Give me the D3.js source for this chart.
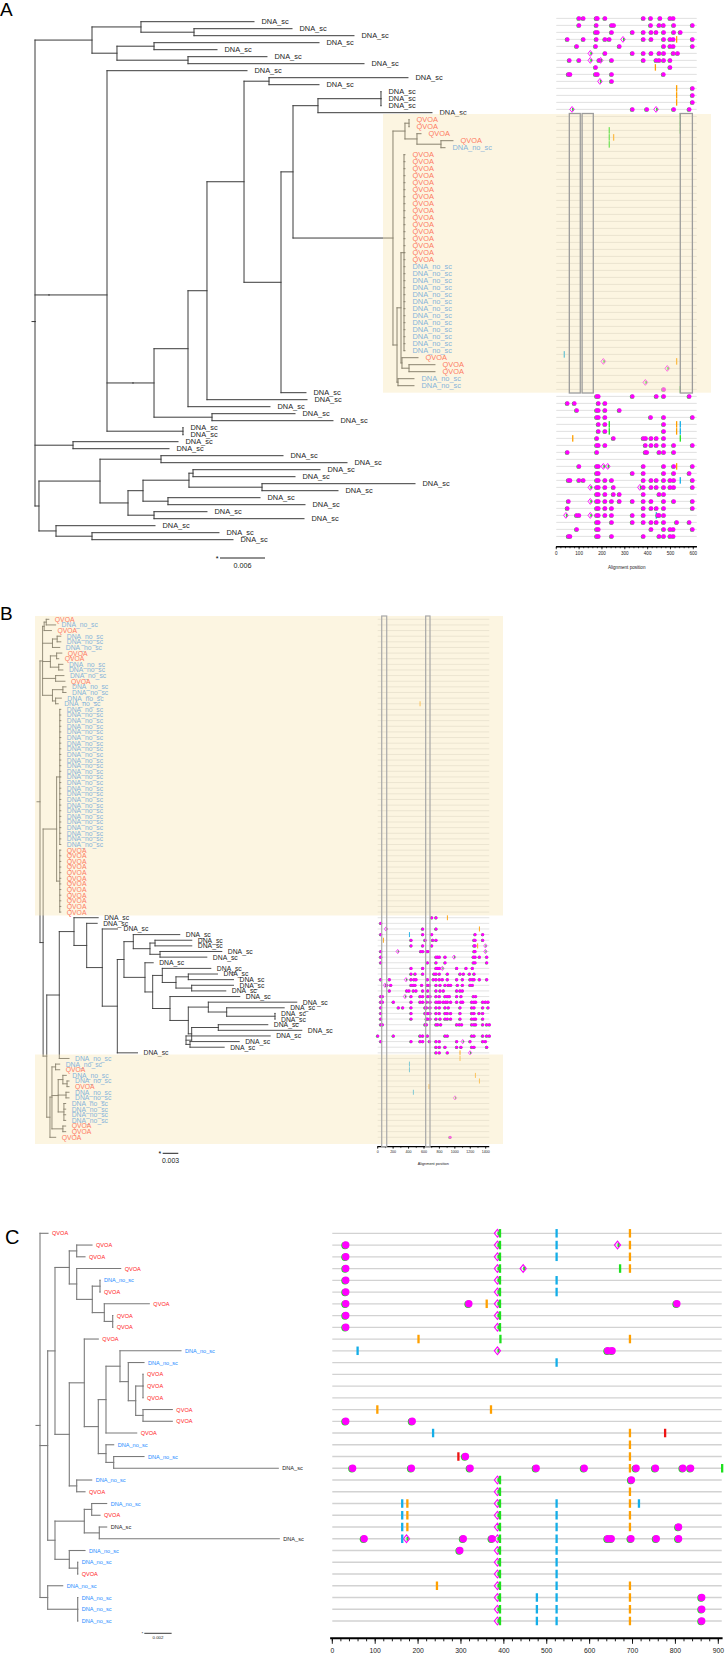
<!DOCTYPE html>
<html><head><meta charset="utf-8">
<script src="https://cdn.jsdelivr.net/npm/d3@7"></script>
<style>body{margin:0;background:#fff}svg{display:block}text{font-family:"Liberation Sans",Arial,sans-serif}</style>
</head><body><svg id="fig" width="725" height="1654"></svg>
<script>
const rep=(s,n)=>Array(n).fill(s).join(',');
const labelText={S:'DNA_sc',Q:'QVOA',N:'DNA_no_sc'};

// ---------------- Panel A data (depths from root, x1e-3 subst/site) ----------------
const hlCladeA=`(((Q:49.87,Q:49.87):49.87,(Q:51.47,(Q:55.73,N:54.67):54.13):50.93):49.33,(((${rep('Q:49.33',16)},${rep('N:49.33',13)}):49.2,(Q:51.07,(Q:53.33,Q:53.33):49.87):48.93):48.8,(N:50.53,N:50.53):48.4):48.27):47.73`;
const treeA=`((((S:29.2,(S:34.27,S:42.53):21.2):14.13,((S:37.87,S:24.27):15.87,(S:30.93,S:43.87):20.4):10.93):7.6,((S:28.27,((((((S:49.73,S:37.87):31.2,((((S:46.13,S:46.13,S:46.13):46.13,S:52.93):37.73,${hlCladeA}):34.4,S:36.13):32.8):27.87,S:36.27):22.93,S:31.33):20.4,(S:34.67,S:39.73):23.6):15.87):13.07,(S:19.73,S:19.73):19.73):9.6):1.87,(S:19.07,S:17.87):5.07,(((S:33.07,S:41.6):16.8,((((S:38,S:34.67):21.07,(S:50.67,S:40.4):30.27):20.53,(S:30,S:36):17.73):14.4,(S:22.93,S:35.87):15.87):12.4):8.67,(S:16,(S:24.53,S:26.4):7.6):2.8):0.53):0`;
const mutsA=[
"99 118 175 180 213 381 413 454 498 512","99 175 242 251 413 450 469 514 596","172 180 242 333 381 415 437 470 514 543",
"48 118 175 213 232 292o 381 415 470 498 512 527y 596","89 172 276 470 498 512 596","149o 213 333 381 415 450 470 512 531",
"57 99 149o 187 194o 242 381 437 450 470 498","172 434y 498","53 60 172 180 242 469","191o 242","527y 596","527y 596","527y 596",
"69o 333 396 437o 514 582","543g","543g","232g 543g","232g 251y","232g",
"","","","","","","","","","","","","","","","","","","","","","","","","","","","","",
"35b","206o 527y","486o","","390o","470 543g",
"177 184 333 438 470 582","48 79 184 213","89 177 184 213 276","177 184 213 413 470 596",
"184 213 232g 470 527y 543b","184 213 232g 470 527y 543b","72y 177 250 381 391 415 438 470 543g",
"177 184 213 390 415 438 470 514 596","48 177 390 396 450 470 514","",
"99 177 184 206o 225o 381 470 514 527y 596","177 184 333 381 470 514 582",
"53 60 99 118 177 184 213 242 381 415 438 470 498 514 543b 596",
"149o 177 184 213 250 366o 381 415 438 470 498 514 596","177 184 213 250 276 381 450 470",
"53 149o 177 184 213 242 276 333 381 415 470 514 596","48 177 184 213 242 381 415 438 470 596",
"42o 89 99 149o 177 184 213 242 333 381 438b 445 450 470","177 184 242 333 381 415 438 470 527 582",
"89 177 184 415 470 498 512 596","53 60 177 184 242 381 450 470 498 512"];
const ticksA=[0,100,200,300,400,500,600];
const boxesA=[[57,105],[113,162],[543,596]];
const scaleA=0.006;

// ---------------- Panel B data ----------------
const topB="(((Q:1.7,N:3.0):1.2,Q:2.2):0.8,((N:4.0,N:4.0):3.3,N:3.8):2.4,((Q:4.2,Q:3.6):3.2,(N:4.4,N:4.4):3.6):2.0,(N:4.6,Q:4.8):3.0,((N:5.0,N:5.0):4.4,(N:4.1,N:3.5):3.0):2.4):0.5";
const blockB=`((${rep('N:4.0',25)}):3.8,(${rep('Q:4.0',12)}):3.8):3.2`;
const scB="(S:11.19,(S:11.0,(S:14.9,(((S:26.88,((S:29.19,S:29.19):22.12,(S:34.96,S:32.08):23.08):21.15):17.94,(S:21.77,((S:32.85,((S:34.13,S:37.21):28.52,(S:37.21,S:35.73):29.17):26.15):23.52,(S:38.42,((S:49.38,(S:46.96,(S:45.19,S:45.19):45.19):35.9):32.37,((S:43.81,S:50.35):34.29,(S:44.27,(S:38.31,S:35.42):28.85):28.08):29.17):28.52):25):21.67):20.19):16.15,S:18.75):14.87):11.98):8.98):6.54";
const botB="(((N:3.79,Q:3.79):3.0,((N:5.06,(N:5.58,Q:5.58):5.2):4.4,(N:5.58,N:5.58):5.0,(N:4.94,N:4.94,N:4.94,N:4.94):4.6):3.5,(Q:4.94,Q:4.94):4.4):2.3,Q:3.02):1.92";
const treeB=`(${topB},(${blockB},((${scB},N:5.58):3.71,${botB}):1.3):0.6):0`;
const mutsB=[
"","","","","","","","","","","","","","","","549y","","","","","","","","","","","",
"","","","","","","","","","","","","","","","","","","","","","","","","","",
"700 756 903y","39","108o 583 756 1318y","39 411b 583 700 1262 1361","73y 432 614 713 756 1249 1262 1361",
"432 583 700 1249 1262 1296y 1396o","39 259o 557 583 631 652 1249 1262 1396o","39 756 778 799 873 990o 1240 1262 1318 1413",
"39 644 756 873 1240 1262 1413","432 583 756 778 799 838o 1024 1145 1227","432 484 583 730 756 799 903 1067 1111 1188 1249",
"39 151 367o 432 471 497 644 721 756 799 838 903 1024 1098 1197 1227 1249 1318 1413",
"95o 117 169 432 462 484 570 644 670 756 808 873 916 946 1033 1098 1197 1227",
"151 376 406 462 497 583 648 756 808 851 1024 1067 1098",
"39 60 354o 432 549 583 648 678 756 799 873 903 929 1024 1080 1240 1270",
"39 60 203 432 549 583 631 678 756 786 808 851 881 903 946 1024 1080 1102 1219 1249 1270 1361 1396 1430",
"39 268 324 432 614 631 678 756 799 873 916 1067 1219 1249 1361 1430",
"39 432 614 648 678 756 799 873 903 946 1067 1219 1249 1314 1361",
"39 432 631 648 678 756 808 873 903 946 1067 1219 1249 1270 1361",
"39 60 614 631 756 778 817 1024 1059 1089 1219 1249 1270 1361 1413 1448","",
"0 203 549 583 644 873 903 1219 1249 1361 1413 1448","39 432 549 583 670 756 799 1024 1102o 1197 1361 1396",
"756 799 873 1024 1080 1219 1249 1413","756 799 903 1067y 1197o",
"1067y","411b","411b","1266y","1318y","665y","462b","1002o","","","","","","","938"];
const ticksB=[0,200,400,600,800,1000,1200,1400];
const boxesB=[[52,117],[622,678]];
const scaleB=0.003;

// ---------------- Panel C data ----------------
const treeC="(Q:0.585,((((Q:3.804,Q:3.292):2.685,(Q:5.903,((N:4.389,Q:4.389):4.389,(Q:7.996,(Q:5.318,Q:5.318):5.318):4.704):3.826):2.685):2.143,((Q:4.265,(((N:10.315,(N:7.608,((Q:7.535,Q:7.535,Q:7.535):7.535,(Q:9.678,Q:9.678):7.535):7.001):6.459):5.852,Q:7.074):4.828,(N:5.391,(N:7.608,S:17.432):5.391):4.828):4.265):3.241,(N:3.782,Q:3.292):2.685):2.143):1.097,(((N:4.879,Q:4.389):3.782,(S:4.879,S:17.505):4.338):3.241,(N:3.292,(N:2.758,Q:2.758):2.758):2.143):1.097):0.563,(N:1.661,(N:2.758,N:2.758,N:2.758):2.758):0.563):0";
const mutsC=[
"385o 391g 523b 694y","31 385o 391g 523b 665o 694y","31 385o 391g 523b 694y","31 385o 391g 445o 671g 694y",
"31 385o 391g 523b","31 385o 391g 523b","31 318 360y 385o 391g 803","31 385o 391g","31 385o 391g",
"201y 392g 694y","59b 385o 642 652","523b","","","","105y 370y","31 186","235b 694y 776r","694y","294r 310 694y",
"47 184 321 475 587 694y 708 753 817 835 909g","385o 391g 697","385o 391g 694y",
"163b 175y 385o 391g 523b 694y 715b","163b 175y 385o 391g 523b 694y","163b 175y 385o 391g 523b 694y 807",
"74 163b 173o 305 372 385o 391g 523b 642 650 696 755 807","297 385o 391g 523b","385o 391g 523b","385o 391g 523b",
"244y 385o 391g 523b 694y","385o 391g 477b 523b 694y 861","385o 391g 477b 523b 694y 861","385o 391g 477b 523b 694y 861"];
const ticksC=[0,100,200,300,400,500,600,700,800,900];
const scaleC=0.002;

// ---------------- helpers ----------------
function parseTree(str){
  const s=str.replace(/\s+/g,'');let i=0;
  function node(){
    const n={};
    if(s[i]==='('){i++;n.children=[];for(;;){n.children.push(node());if(s[i]===','){i++;continue;}i++;break;}}
    else{const j=i;while(i<s.length&&/[A-Za-z_]/.test(s[i]))i++;n.label=s.slice(j,i);}
    if(s[i]===':'){i++;const j=i;while(i<s.length&&/[0-9.\-]/.test(s[i]))i++;n.depth=+s.slice(j,i);}else n.depth=0;
    return n;
  }
  return node();
}
const svg=d3.select('#fig');
function drawTree(g,str,xs,ys,o){
  const root=d3.hierarchy(parseTree(str));
  const leaves=root.leaves();
  leaves.forEach((l,i)=>l.yy=ys(i));
  root.eachAfter(n=>{n.xx=xs(n.data.depth);if(n.children)n.yy=d3.mean(n.children,c=>c.yy);});
  const segs=[];
  root.each(n=>{if(n.children){const cy=n.children.map(c=>c.yy);segs.push([n.xx,d3.min(cy),n.xx,d3.max(cy)]);n.children.forEach(c=>segs.push([n.xx,c.yy,c.xx,c.yy]));}});
  segs.push([root.xx-o.stub,root.yy,root.xx,root.yy]);
  g.append('g').selectAll('line').data(segs).join('line')
    .attr('x1',d=>d[0]).attr('y1',d=>d[1]).attr('x2',d=>d[2]).attr('y2',d=>d[3])
    .attr('stroke',o.line).attr('stroke-width',o.lw).attr('stroke-linecap','square');
  g.append('g').selectAll('text').data(leaves).join('text')
    .attr('x',d=>d.xx+o.gap).attr('y',d=>d.yy).attr('dy','0.36em')
    .attr('font-size',o.fs).attr('fill',d=>o.colors[d.data.label]).text(d=>labelText[d.data.label]);
}
const tickCol={g:'#1ee01e',b:'#14aee8',y:'#ffa000',r:'#ee1414'};
function drawHL(g,rows,xs,ys,maxPos,st){
  g.append('g').selectAll('line').data(rows).join('line')
    .attr('x1',xs(0)).attr('x2',xs(maxPos)).attr('y1',(d,i)=>ys(i)).attr('y2',(d,i)=>ys(i))
    .attr('stroke',st.rowColor).attr('stroke-width',st.rowW);
  const marks=[];
  rows.forEach((r,i)=>r.split(/\s+/).filter(Boolean).forEach(t=>{const m=t.match(/^(\d+)([a-z]?)$/);marks.push({row:i,pos:+m[1],t:m[2]||'d'});}));
  const dia=marks.filter(m=>m.t==='o'), tk=marks.filter(m=>'gbyr'.includes(m.t)), dots=marks.filter(m=>m.t==='d');
  const gd=g.append('g');
  dia.forEach(m=>{
    const x=xs(m.pos),y=ys(m.row),w=st.dw,h=st.dh;
    gd.append('rect').attr('x',x).attr('y',y-h*0.5).attr('width',w*0.7).attr('height',h).attr('fill',tickCol.g);
    gd.append('path').attr('d',`M${x},${y-h}L${x+w},${y}L${x},${y+h}L${x-w},${y}Z`).attr('fill','none').attr('stroke','#ff00ff').attr('stroke-width',st.dsw);
  });
  g.append('g').selectAll('rect').data(tk).join('rect')
    .attr('x',d=>xs(d.pos)-st.tw/2).attr('y',d=>ys(d.row)-st.th/2).attr('width',st.tw).attr('height',st.th)
    .attr('fill',d=>tickCol[d.t]);
  const gdot=g.append('g');
  gdot.selectAll('.gr').data(dots).join('circle').attr('cx',d=>xs(d.pos)-st.r*0.16).attr('cy',d=>ys(d.row)+st.r*0.12).attr('r',st.r).attr('fill','#22d422');
  gdot.selectAll('.mg').data(dots).join('circle').attr('cx',d=>xs(d.pos)+st.r*0.04).attr('cy',d=>ys(d.row)).attr('r',st.r).attr('fill','#ff00ff');
}
function drawAxis(g,xs,y,ticks,minorStep,maxPos,st){
  const ax=g.append('g').attr('transform',`translate(0,${y})`);
  ax.append('line').attr('x1',xs(-st.ext)).attr('x2',xs(maxPos)).attr('stroke','#000').attr('stroke-width',st.aw);
  ax.selectAll('.mi').data(d3.range(0,maxPos,minorStep)).join('line').attr('x1',d=>xs(d)).attr('x2',d=>xs(d)).attr('y1',0).attr('y2',st.minor).attr('stroke','#000').attr('stroke-width',st.tw);
  ax.selectAll('.ma').data(ticks).join('line').attr('x1',d=>xs(d)).attr('x2',d=>xs(d)).attr('y1',0).attr('y2',st.major).attr('stroke','#000').attr('stroke-width',st.tw);
  ax.selectAll('text').data(ticks).join('text').attr('x',d=>xs(d)).attr('y',st.ly).attr('text-anchor','middle').attr('font-size',st.fs).attr('fill','#222').text(d=>d);
}
function scaleBar(g,xs,x0,y,val,st){
  const len=xs(val*1000)-xs(0);
  g.append('text').attr('x',x0-st.sg).attr('y',y+st.fs*0.45).attr('font-size',st.fs).attr('text-anchor','end').text('*');
  g.append('line').attr('x1',x0).attr('x2',x0+len).attr('y1',y).attr('y2',y).attr('stroke','#222').attr('stroke-width',st.lw);
  g.append('text').attr('x',x0+len/2).attr('y',y+st.ty).attr('text-anchor','middle').attr('font-size',st.fs).attr('fill','#222').text(val);
}

// ---------------- Panel A ----------------
{
  const g=svg.append('g');
  g.append('text').attr('x',0).attr('y',16).attr('font-size',19).text('A');
  const xs=d3.scaleLinear().domain([0,6]).range([35,80]);
  const ys=d3.scaleLinear().domain([0,74]).range([21.7,539.7]);
  drawTree(g,treeA,xs,ys,{line:'#3a3a3a',lw:1,stub:3,gap:7.5,fs:7.4,colors:{S:'#1c1c1c',Q:'#ff2618',N:'#2c8df2'}});
  const hx=d3.scaleLinear().domain([0,600]).range([556.3,693.3]);
  const hy=d3.scaleLinear().domain([0,74]).range([18.4,536.4]);
  drawHL(g,mutsA,hx,hy,615,{rowColor:'#dcdcdc',rowW:0.9,r:2.2,tw:1.3,th:6.5,dw:2.3,dh:2.9,dsw:0.9});
  drawAxis(g,hx,546.7,ticksA,20,616,{ext:1,aw:1.4,tw:0.7,minor:1.6,major:2.6,ly:8.5,fs:4.6});
  g.append('text').attr('x',626.7).attr('y',568.5).attr('text-anchor','middle').attr('font-size',4.6).attr('fill','#222').text('Alignment position');
  scaleBar(g,xs,220,558,scaleA,{sg:1.5,lw:1,fs:7.2,ty:10});
  g.append('rect').attr('x',383).attr('y',114).attr('width',328).attr('height',278.7).attr('fill','#f9e6b8').attr('opacity',0.42);
  boxesA.forEach(b=>g.append('rect').attr('x',hx(b[0])).attr('y',113.5).attr('width',hx(b[1])-hx(b[0])).attr('height',279.5).attr('fill','none').attr('stroke','#9c9c9c').attr('stroke-width',1.3));
}
// ---------------- Panel B ----------------
{
  const g=svg.append('g');
  g.append('text').attr('x',0).attr('y',620).attr('font-size',19).text('B');
  const xs=d3.scaleLinear().domain([0,3]).range([40,55.6]);
  const ys=d3.scaleLinear().domain([0,92]).range([619.3,1137.3]);
  drawTree(g,treeB,xs,ys,{line:'#3a3a3a',lw:0.9,stub:3,gap:6,fs:6.8,colors:{S:'#1c1c1c',Q:'#ff2618',N:'#2c8df2'}});
  const hx=d3.scaleLinear().domain([0,1400]).range([377.7,485.7]);
  drawHL(g,mutsB,hx,ys,1446,{rowColor:'#dcdcdc',rowW:0.8,r:1.55,tw:0.9,th:5,dw:1.6,dh:2.1,dsw:0.7});
  drawAxis(g,hx,1146.7,ticksB,100,1446,{ext:5,aw:1.2,tw:0.6,minor:1.4,major:2.2,ly:6.5,fs:3.6});
  g.append('text').attr('x',433.3).attr('y',1164.5).attr('text-anchor','middle').attr('font-size',3.8).attr('fill','#222').text('Alignment position');
  scaleBar(g,xs,162.7,1153.3,scaleB,{sg:1.5,lw:1,fs:6.9,ty:9.5});
  g.append('rect').attr('x',35).attr('y',616).attr('width',468).attr('height',299.5).attr('fill','#f9e6b8').attr('opacity',0.42);
  g.append('rect').attr('x',35).attr('y',1054.5).attr('width',468).attr('height',89.5).attr('fill','#f9e6b8').attr('opacity',0.42);
  boxesB.forEach(b=>g.append('rect').attr('x',hx(b[0])).attr('y',616).attr('width',hx(b[1])-hx(b[0])).attr('height',530.7).attr('fill','none').attr('stroke','#a8a8a8').attr('stroke-width',1.2));
}
// ---------------- Panel C ----------------
{
  const g=svg.append('g');
  g.append('text').attr('x',5).attr('y',1244).attr('font-size',20).text('C');
  const xs=d3.scaleLinear().domain([0,2]).range([40,67.34]);
  const ys=d3.scaleLinear().domain([0,33]).range([1233.3,1621]);
  drawTree(g,treeC,xs,ys,{line:'#7a7a7a',lw:1.1,stub:4,gap:4,fs:5.6,colors:{S:'#222',Q:'#ff2020',N:'#1e8cff'}});
  const hx=d3.scaleLinear().domain([0,900]).range([332.3,718.3]);
  drawHL(g,mutsC,hx,ys,908,{rowColor:'#d2d2d2',rowW:1.3,r:3.7,tw:2.3,th:8.5,dw:3.1,dh:3.9,dsw:1.1});
  drawAxis(g,hx,1638.3,ticksC,20,910,{ext:5,aw:2,tw:0.9,minor:3,major:5.5,ly:14.5,fs:6.8});
  scaleBar(g,xs,144.3,1633.3,scaleC,{sg:1,lw:0.9,fs:4.4,ty:6});
}
</script></body></html>
